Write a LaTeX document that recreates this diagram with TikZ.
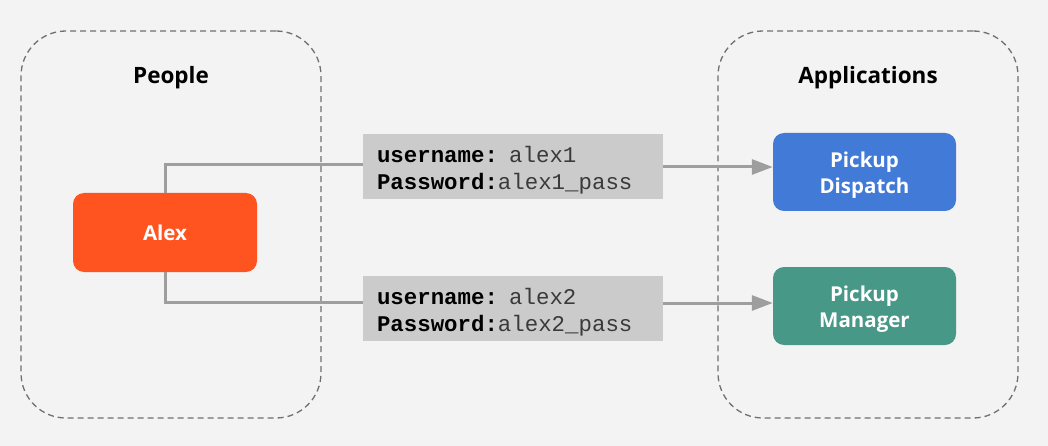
\documentclass[tikz,border=0pt]{standalone}
\usepackage{fontspec}
\setmainfont{Open Sans}
\newfontfamily\monofont{Liberation Mono}
\usetikzlibrary{arrows.meta}
\definecolor{bgc}{HTML}{F3F3F3}
\definecolor{alexc}{HTML}{FF5420}
\definecolor{bluec}{HTML}{417AD7}
\definecolor{tealc}{HTML}{489887}
\definecolor{labc}{HTML}{CBCBCB}
\definecolor{linec}{HTML}{9E9E9E}
\definecolor{dashc}{HTML}{707070}
\definecolor{valc}{HTML}{3A3A3A}
\tikzset{
  group/.style={draw=dashc, line width=1.3pt, dash pattern=on 6pt off 4pt, rounded corners=45pt, minimum width=300pt, minimum height=387pt, inner sep=0pt},
  title/.style={font=\fontsize{22.5}{27}\selectfont\bfseries, text=black},
  appbox/.style={rounded corners=11pt, minimum width=183pt, minimum height=78pt, inner sep=0pt, text=white, align=center, font=\fontsize{20.5}{26}\selectfont\bfseries},
  credbox/.style={fill=labc, minimum width=300pt, minimum height=65pt, inner xsep=14pt, inner ysep=0pt, text width=272pt, align=left, font=\fontsize{22.4}{27}\selectfont\monofont},
  conn/.style={draw=linec, line width=3pt},
  arr/.style={conn, -{Triangle[length=21pt, width=15pt]}},
}
\newcommand{\credlab}[1]{\textbf{\color{black}#1}}
\begin{document}
\begin{tikzpicture}[x=1pt, y=-1pt]
  \fill[bgc] (0,0) rectangle (1048,446);
  \useasboundingbox (0,0) rectangle (1048,446);
  \node[group] (people) at (171,224.5) {};
  \node[group] (apps) at (868,224.5) {};
  \node[title] (ptitle) at (171,78) {People};
  \node[title] (atitle) at (868,78) {Applications};
  \node[appbox, fill=alexc, minimum width=184pt, minimum height=79pt, font=\fontsize{20.5}{24}\selectfont\bfseries] (alex) at (165,232.5) {Alex};
  \node[credbox, text=valc] (cred1) at (513,166.5) {\rule{0pt}{24pt}\credlab{username:} alex1\\\credlab{Password:}alex1\_pass};
  \node[credbox, text=valc] (cred2) at (513,308.5) {\rule{0pt}{24pt}\credlab{username:} alex2\\\credlab{Password:}alex2\_pass};
  \node[appbox, fill=bluec] (disp) at (864.5,172) {\rule{0pt}{22pt}Pickup\\Dispatch};
  \node[appbox, fill=tealc] (mgr) at (864.5,306) {\rule{0pt}{22pt}Pickup\\Manager};
  \coordinate (c1) at (165,165);
  \coordinate (c2) at (165,302);
  \coordinate (e1) at (663,167);
  \coordinate (e2) at (663,303);
  \draw[conn] (alex.north) -- (c1) -- (cred1.west |- c1);
  \draw[conn] (alex.south) -- (c2) -- (cred2.west |- c2);
  \draw[arr] (e1) -- (disp.west |- e1);
  \draw[arr] (e2) -- (mgr.west |- e2);
\end{tikzpicture}
\end{document}
